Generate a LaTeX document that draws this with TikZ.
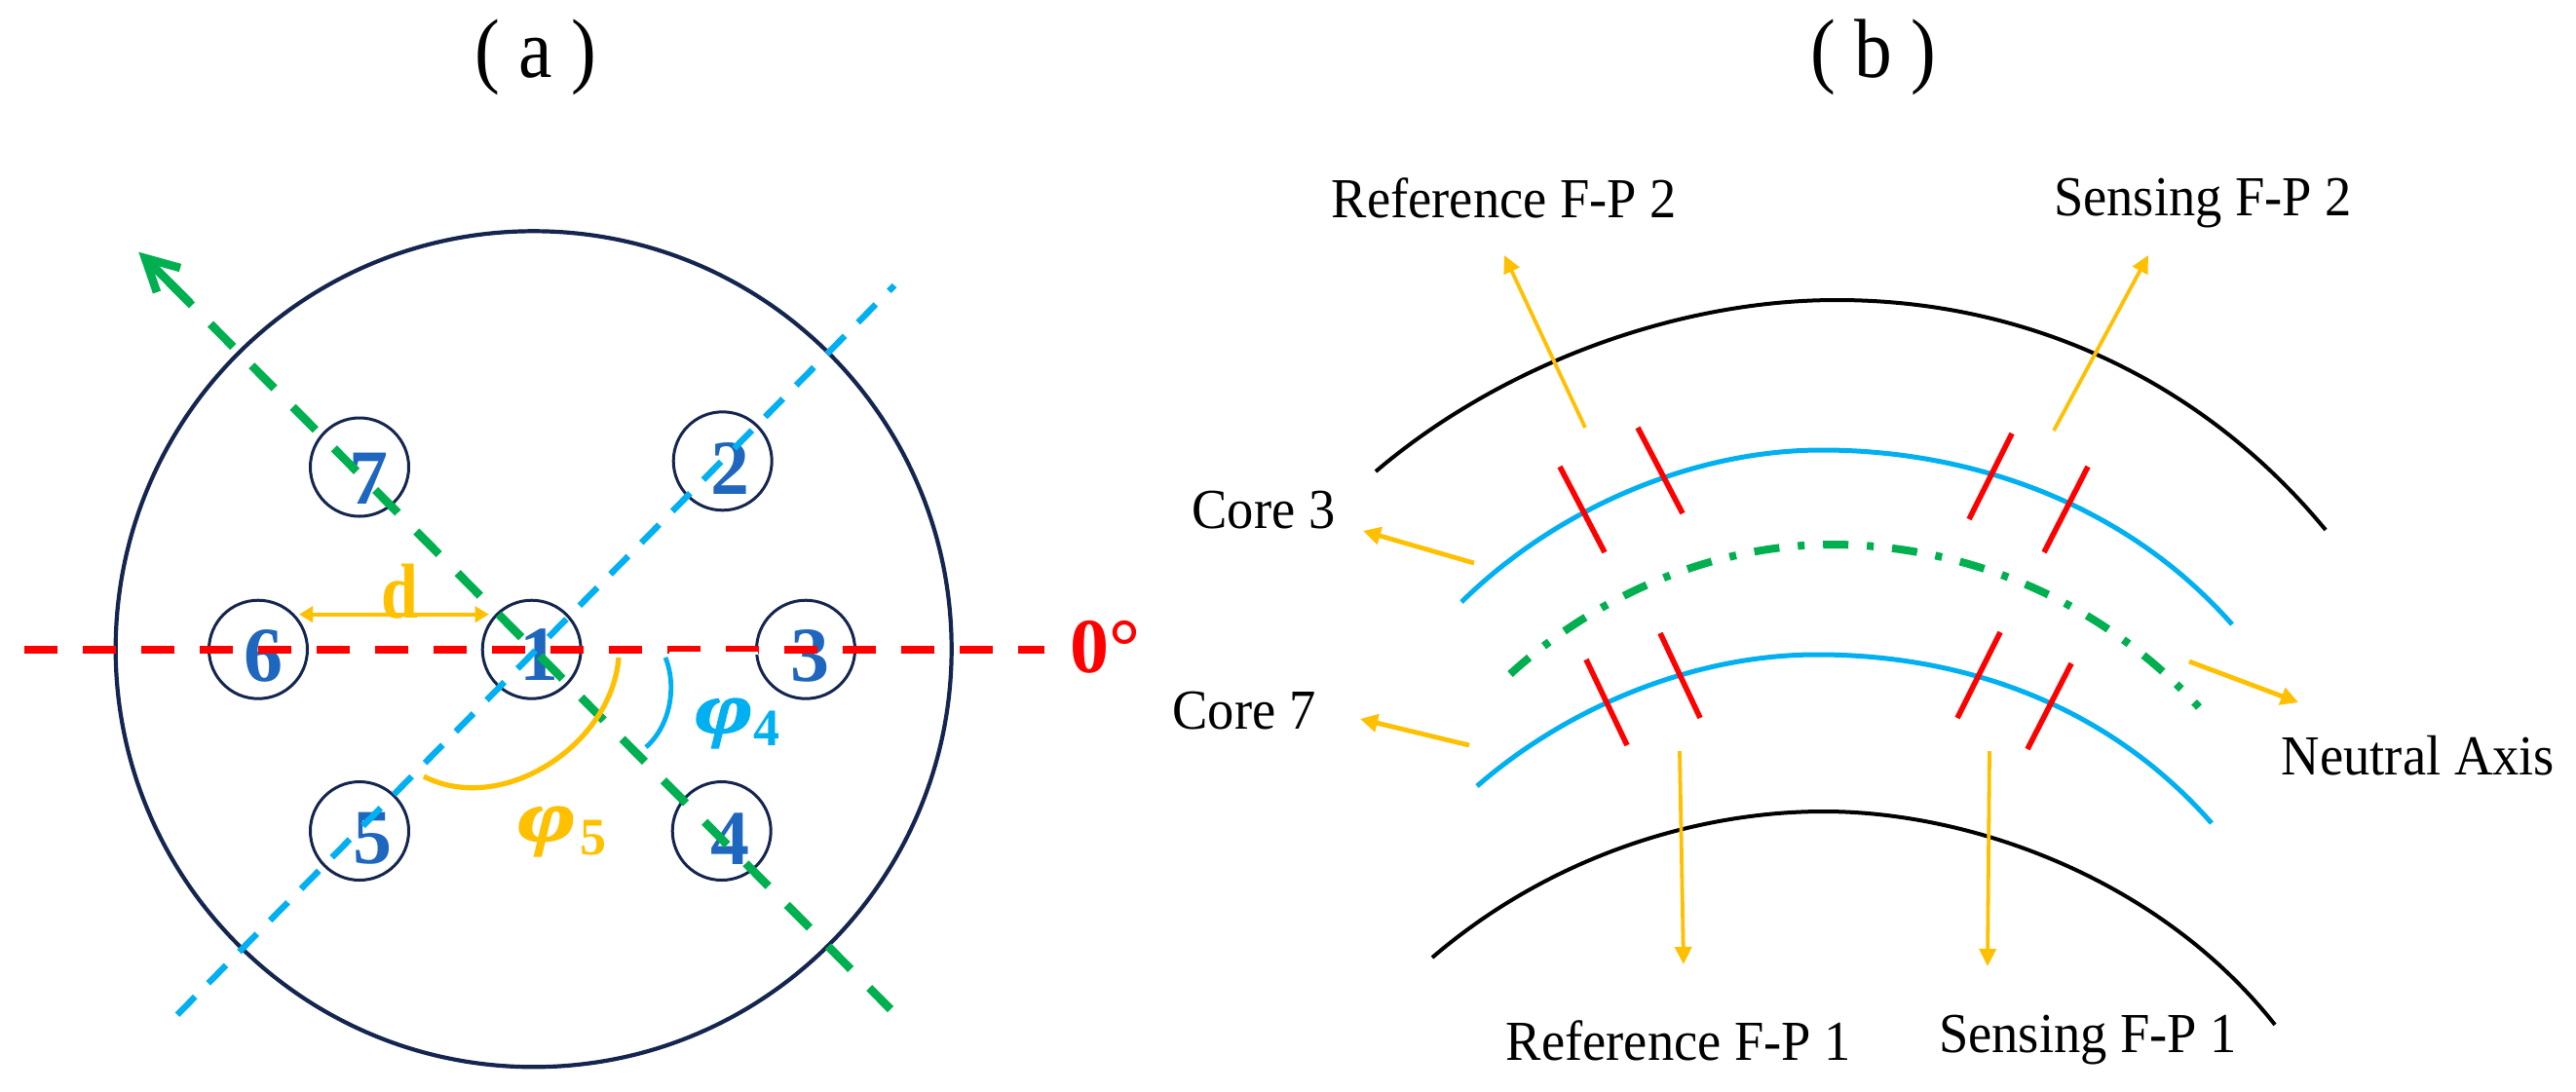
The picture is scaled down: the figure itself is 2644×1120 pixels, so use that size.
\documentclass[tikz,border=0pt]{standalone}
\usepackage{fontspec}
\setmainfont{Liberation Serif}
\newfontfamily\labfont{Liberation Serif}[FakeStretch=0.94]
\newfontfamily\titfont{Liberation Serif}[FakeStretch=0.9]
\newfontfamily\phifont{Liberation Serif}[FakeStretch=1.38,FakeBold=2]
\newfontfamily\dfont{Liberation Serif}[FakeStretch=0.85]
\usetikzlibrary{arrows.meta}
\definecolor{navyc}{HTML}{14264F}
\definecolor{digc}{HTML}{1F66BE}
\definecolor{cyanc}{HTML}{00B0F0}
\definecolor{greenc}{HTML}{00B050}
\definecolor{redc}{HTML}{FF0000}
\definecolor{orangec}{HTML}{FFC000}
\tikzset{
  x=0.5pt,y=-0.5pt,
  core/.style={circle,draw=navyc,line width=1.5pt,minimum size=50.5pt,inner sep=0pt},
  dig/.style={text=digc,inner sep=0pt,font=\fontsize{40}{40}\selectfont\bfseries},
  lab/.style={anchor=base,inner sep=0pt,text=black,font=\labfont\fontsize{29}{29}\selectfont},
  tit/.style={anchor=base,inner sep=0pt,text=black,font=\titfont\fontsize{43}{43}\selectfont},
  redaxis/.style={redc,line width=4pt,dash pattern=on 17pt off 13pt},
  greenaxis/.style={greenc,line width=4.3pt,dash pattern=on 16.5pt off 13.5pt},
  cyanaxis/.style={cyanc,line width=3.2pt,dash pattern=on 13pt off 9.65pt},
  ptr/.style={orangec,line width=1.9pt,-{Triangle[length=9pt,width=8.5pt]}},
  ptrb/.style={orangec,line width=2.4pt,-{Triangle[length=9pt,width=9pt]}},
  blackarc/.style={black,line width=2pt},
  corearc/.style={cyanc,line width=2.5pt},
  tick/.style={redc,line width=2.8pt},
  phisym/.style={anchor=base west,inner sep=0pt,font=\phifont\fontsize{37}{37}\selectfont\bfseries\itshape},
  phisub/.style={anchor=base west,inner sep=0pt,font=\fontsize{27}{27}\selectfont\bfseries},
}
\begin{document}
\begin{tikzpicture}
\path[use as bounding box,fill=white] (0,0) rectangle (2644,1120);
% ---------- panel a
\node[tit] (ta) at (550,79) {( a )};
\node[tit] (tb) at (1923,79) {( b )};
\node[circle,draw=navyc,line width=2.1pt,minimum size=429pt,inner sep=0pt] (outer) at (547.7,666.3) {};
\node[core] (c1) at (545.7,666.7) {};
\node[core] (c2) at (741.7,473.3) {};
\node[core] (c3) at (827,666.7) {};
\node[core] (c4) at (740.7,853) {};
\node[core] (c5) at (369,853) {};
\node[core] (c6) at (265,666.7) {};
\node[core] (c7) at (369,479.5) {};
\node[dig] (d1) at (553,672) {1};
\node[dig] (d2) at (749,481.5) {2};
\node[dig] (d3) at (831,673) {3};
\node[dig] (d4) at (749,861) {4};
\node[dig] (d5) at (382,861) {5};
\node[dig] (d6) at (270,673) {6};
\node[dig] (d7) at (378,491) {7};
\coordinate (ra) at (25,666.7);
\coordinate (rb) at (1072,666.7);
\draw[redaxis] (ra) -- (rb);
\fill[white] (687,668.5) rectangle (778,672);
\coordinate (ga) at (173.8,290);
\coordinate (gb) at (914,1036);
\draw[greenaxis] (ga) -- (gb);
\coordinate (gtip) at (149,265);
\coordinate (gbar1) at (185,275);
\coordinate (gbar2) at (161,300);
\coordinate (gs) at (195,311);
\draw[greenc,line width=4.3pt,line join=miter] (gs) -- (gtip);
\draw[greenc,line width=4.3pt,line join=miter] (gbar1) -- (gtip) -- (gbar2);
\coordinate (ba) at (182,1041.7);
\coordinate (bb) at (918,293);
\draw[cyanaxis] (ba) -- (bb);
\node[anchor=base west,inner sep=0pt,text=redc,font=\fontsize{40}{40}\selectfont\bfseries] (zero) at (1098,690) {0°};
\coordinate (dl) at (307,630.7);
\coordinate (dr) at (501.7,630.7);
\draw[orangec,line width=1.8pt,{Triangle[length=7pt,width=8pt]}-{Triangle[length=7pt,width=8pt]}] (dl) -- (dr);
\node[anchor=base,inner sep=0pt,text=orangec,font=\dfont\fontsize{40}{40}\selectfont\bfseries] (dlab) at (410.5,634) {d};
\coordinate (a5s) at (635,675);
\coordinate (a5e) at (435,797);
\draw[orangec,line width=2.6pt] (a5s) .. controls (628,765) and (515,838) .. (a5e);
\coordinate (a4s) at (683,675);
\coordinate (a4e) at (663,767);
\draw[cyanc,line width=2.4pt] (a4s) .. controls (695,705) and (688,745) .. (a4e);
\node[phisym,text=cyanc] (p4) at (713,752) {φ};
\node[phisub,text=cyanc] (p4s) at (773,765) {4};
\node[phisym,text=orangec] (p5) at (531,863) {φ};
\node[phisub,text=orangec] (p5s) at (595,877) {5};
% ---------- panel b
\draw[blackarc] (1412,484) .. controls (1540,375) and (1720,308) .. (1885,308) .. controls (2080,308) and (2260,390) .. (2387,544);
\draw[blackarc] (1470,983) .. controls (1590,880) and (1740,833) .. (1872,833) .. controls (2020,833) and (2215,900) .. (2335,1052);
\draw[corearc] (1500,618) .. controls (1600,520) and (1740,462) .. (1870,462) .. controls (2020,462) and (2180,515) .. (2291,641);
\draw[corearc] (1516,807) .. controls (1610,725) and (1740,672) .. (1865,672) .. controls (2010,672) and (2160,720) .. (2270,845);
\draw[greenc,line width=4pt,dash pattern=on 13pt off 9.5pt on 3.5pt off 9.5pt] (1550,692) .. controls (1640,610) and (1760,559) .. (1880,559) .. controls (2010,559) and (2150,610) .. (2257,726);
\foreach \n/\ax/\ay/\bx/\by in {ta/1601/479/1647/567,tb/1681/439/1727/527,tc/2065/445/2021/533,td/2143/479/2098/567,te/1628/677/1670/765,tf/1704/650/1745/737,tg/2053/649/2009/737,th/2126/681/2081/769}{
  \coordinate (\n1) at (\ax,\ay);
  \coordinate (\n2) at (\bx,\by);
  \draw[tick] (\n1) -- (\n2);
}
\node[lab] (lr2) at (1544,223) {Reference F-P 2};
\node[lab] (ls2) at (2261,221) {Sensing F-P 2};
\node[lab] (lc3) at (1297,542) {Core 3};
\node[lab] (lc7) at (1277,748) {Core 7};
\node[lab] (lna) at (2482,795) {Neutral Axis};
\node[lab] (lr1) at (1723,1088) {Reference F-P 1};
\node[lab] (ls1) at (2143,1080) {Sensing F-P 1};
\foreach \n/\ax/\ay/\bx/\by in {pa/1627/439/1544/262,pb/2108/442/2205/262,pf/1724/771/1728/990,pg/2042/771/2040/992}{
  \coordinate (\n1) at (\ax,\ay);
  \coordinate (\n2) at (\bx,\by);
  \draw[ptr] (\n1) -- (\n2);
}
\foreach \n/\ax/\ay/\bx/\by in {pc/1513/578/1399/545,pd/1508/765/1396/738,pe/2247/679/2359/721}{
  \coordinate (\n1) at (\ax,\ay);
  \coordinate (\n2) at (\bx,\by);
  \draw[ptrb] (\n1) -- (\n2);
}
\end{tikzpicture}
\end{document}
